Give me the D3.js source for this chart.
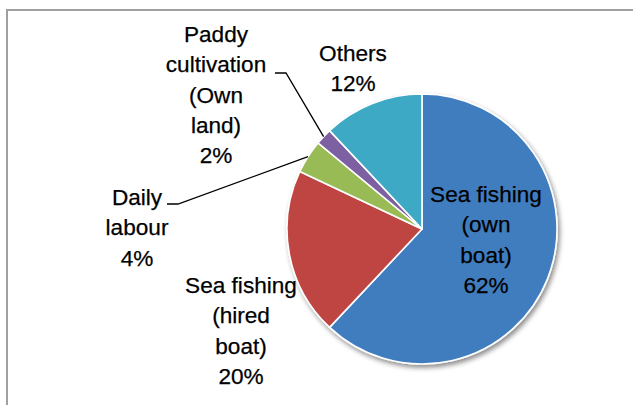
<!DOCTYPE html>
<html>
<head>
<meta charset="utf-8">
<script src="https://cdn.jsdelivr.net/npm/d3@7"></script>
<style>
  html, body { margin: 0; padding: 0; background: #fff; }
  svg { display: block; }
  text { font-family: "Liberation Sans", Arial, sans-serif; font-size: 22.6px; fill: #000; stroke: #000; stroke-width: 0.25px; }
</style>
</head>
<body>
<svg id="chart" width="633" height="405"></svg>
<script>
// Livelihood sources (share of households, %)
const categories = [
  "Sea fishing (own boat)",
  "Sea fishing (hired boat)",
  "Daily labour",
  "Paddy cultivation (Own land)",
  "Others"
];
const values = [62, 20, 4, 2, 12];
const percentLabels = ["62%", "20%", "4%", "2%", "12%"];
const colors = ["#3f7dbf", "#bf4542", "#99bb55", "#7d60a1", "#3ea9c5"];

// Label text broken into lines as drawn
const labelLines = [
  ["Sea fishing", "(own", "boat)"],
  ["Sea fishing", "(hired", "boat)"],
  ["Daily", "labour"],
  ["Paddy", "cultivation", "(Own", "land)"],
  ["Others"]
];

const width = 633, height = 405;
const cx = 422, cy = 229, radius = 135;
const lineHeight = 30.3;

// Label anchors (centre x, first baseline y) relative to the pie centre
const labelLayout = [
  { dx: 64,   dy: -27,  leader: false },
  { dx: -181, dy: 64,   leader: false },
  { dx: -285, dy: -24,  leader: true, hook: { x1: -255, x2: -244, y: -25 } },
  { dx: -206, dy: -187, leader: true, hook: { x1: -147, x2: -136, y: -156 } },
  { dx: -69,  dy: -168, leader: false }
];

const svg = d3.select("#chart");

// Chart frame
svg.append("rect")
  .attr("x", 7).attr("y", 10)
  .attr("width", width + 20).attr("height", height + 20)
  .attr("fill", "none")
  .attr("stroke", "#a0a0a0")
  .attr("stroke-width", 2);

// Soft outer shadow under the pie
const defs = svg.append("defs");
const f = defs.append("filter").attr("id", "pieShadow")
  .attr("x", "-20%").attr("y", "-20%").attr("width", "140%").attr("height", "140%");
f.append("feDropShadow")
  .attr("dx", 2).attr("dy", 3)
  .attr("stdDeviation", 2.6)
  .attr("flood-color", "#000")
  .attr("flood-opacity", 0.45);

const pie = d3.pie().sort(null).value(d => d)
  .startAngle(0).endAngle(2 * Math.PI);
const arcs = pie(values);
const arc = d3.arc().innerRadius(0).outerRadius(radius);

const g = svg.append("g").attr("transform", `translate(${cx},${cy})`);

g.append("g").attr("filter", "url(#pieShadow)")
  .selectAll("path")
  .data(arcs)
  .join("path")
  .attr("d", arc)
  .attr("fill", (d, i) => colors[i])
  .attr("stroke", "#fff")
  .attr("stroke-width", 1.6)
  .attr("stroke-linejoin", "round");

// Leader lines from outside labels to the slice rim
const rimArc = d3.arc().innerRadius(radius).outerRadius(radius);
arcs.forEach((d, i) => {
  const L = labelLayout[i];
  if (!L.leader) return;
  const [ex, ey] = rimArc.centroid(d);
  g.append("polyline")
    .attr("points", [[L.hook.x1, L.hook.y], [L.hook.x2, L.hook.y], [ex, ey]].map(p => p.join(",")).join(" "))
    .attr("fill", "none")
    .attr("stroke", "#000")
    .attr("stroke-width", 1.3);
});

// Labels: category lines then percentage
arcs.forEach((d, i) => {
  const L = labelLayout[i];
  const lines = labelLines[i].concat([percentLabels[i]]);
  const t = g.append("text")
    .attr("text-anchor", "middle")
    .attr("x", L.dx).attr("y", L.dy);
  lines.forEach((s, k) => {
    t.append("tspan")
      .attr("x", L.dx)
      .attr("y", L.dy + k * lineHeight)
      .text(s);
  });
});
</script>
</body>
</html>
